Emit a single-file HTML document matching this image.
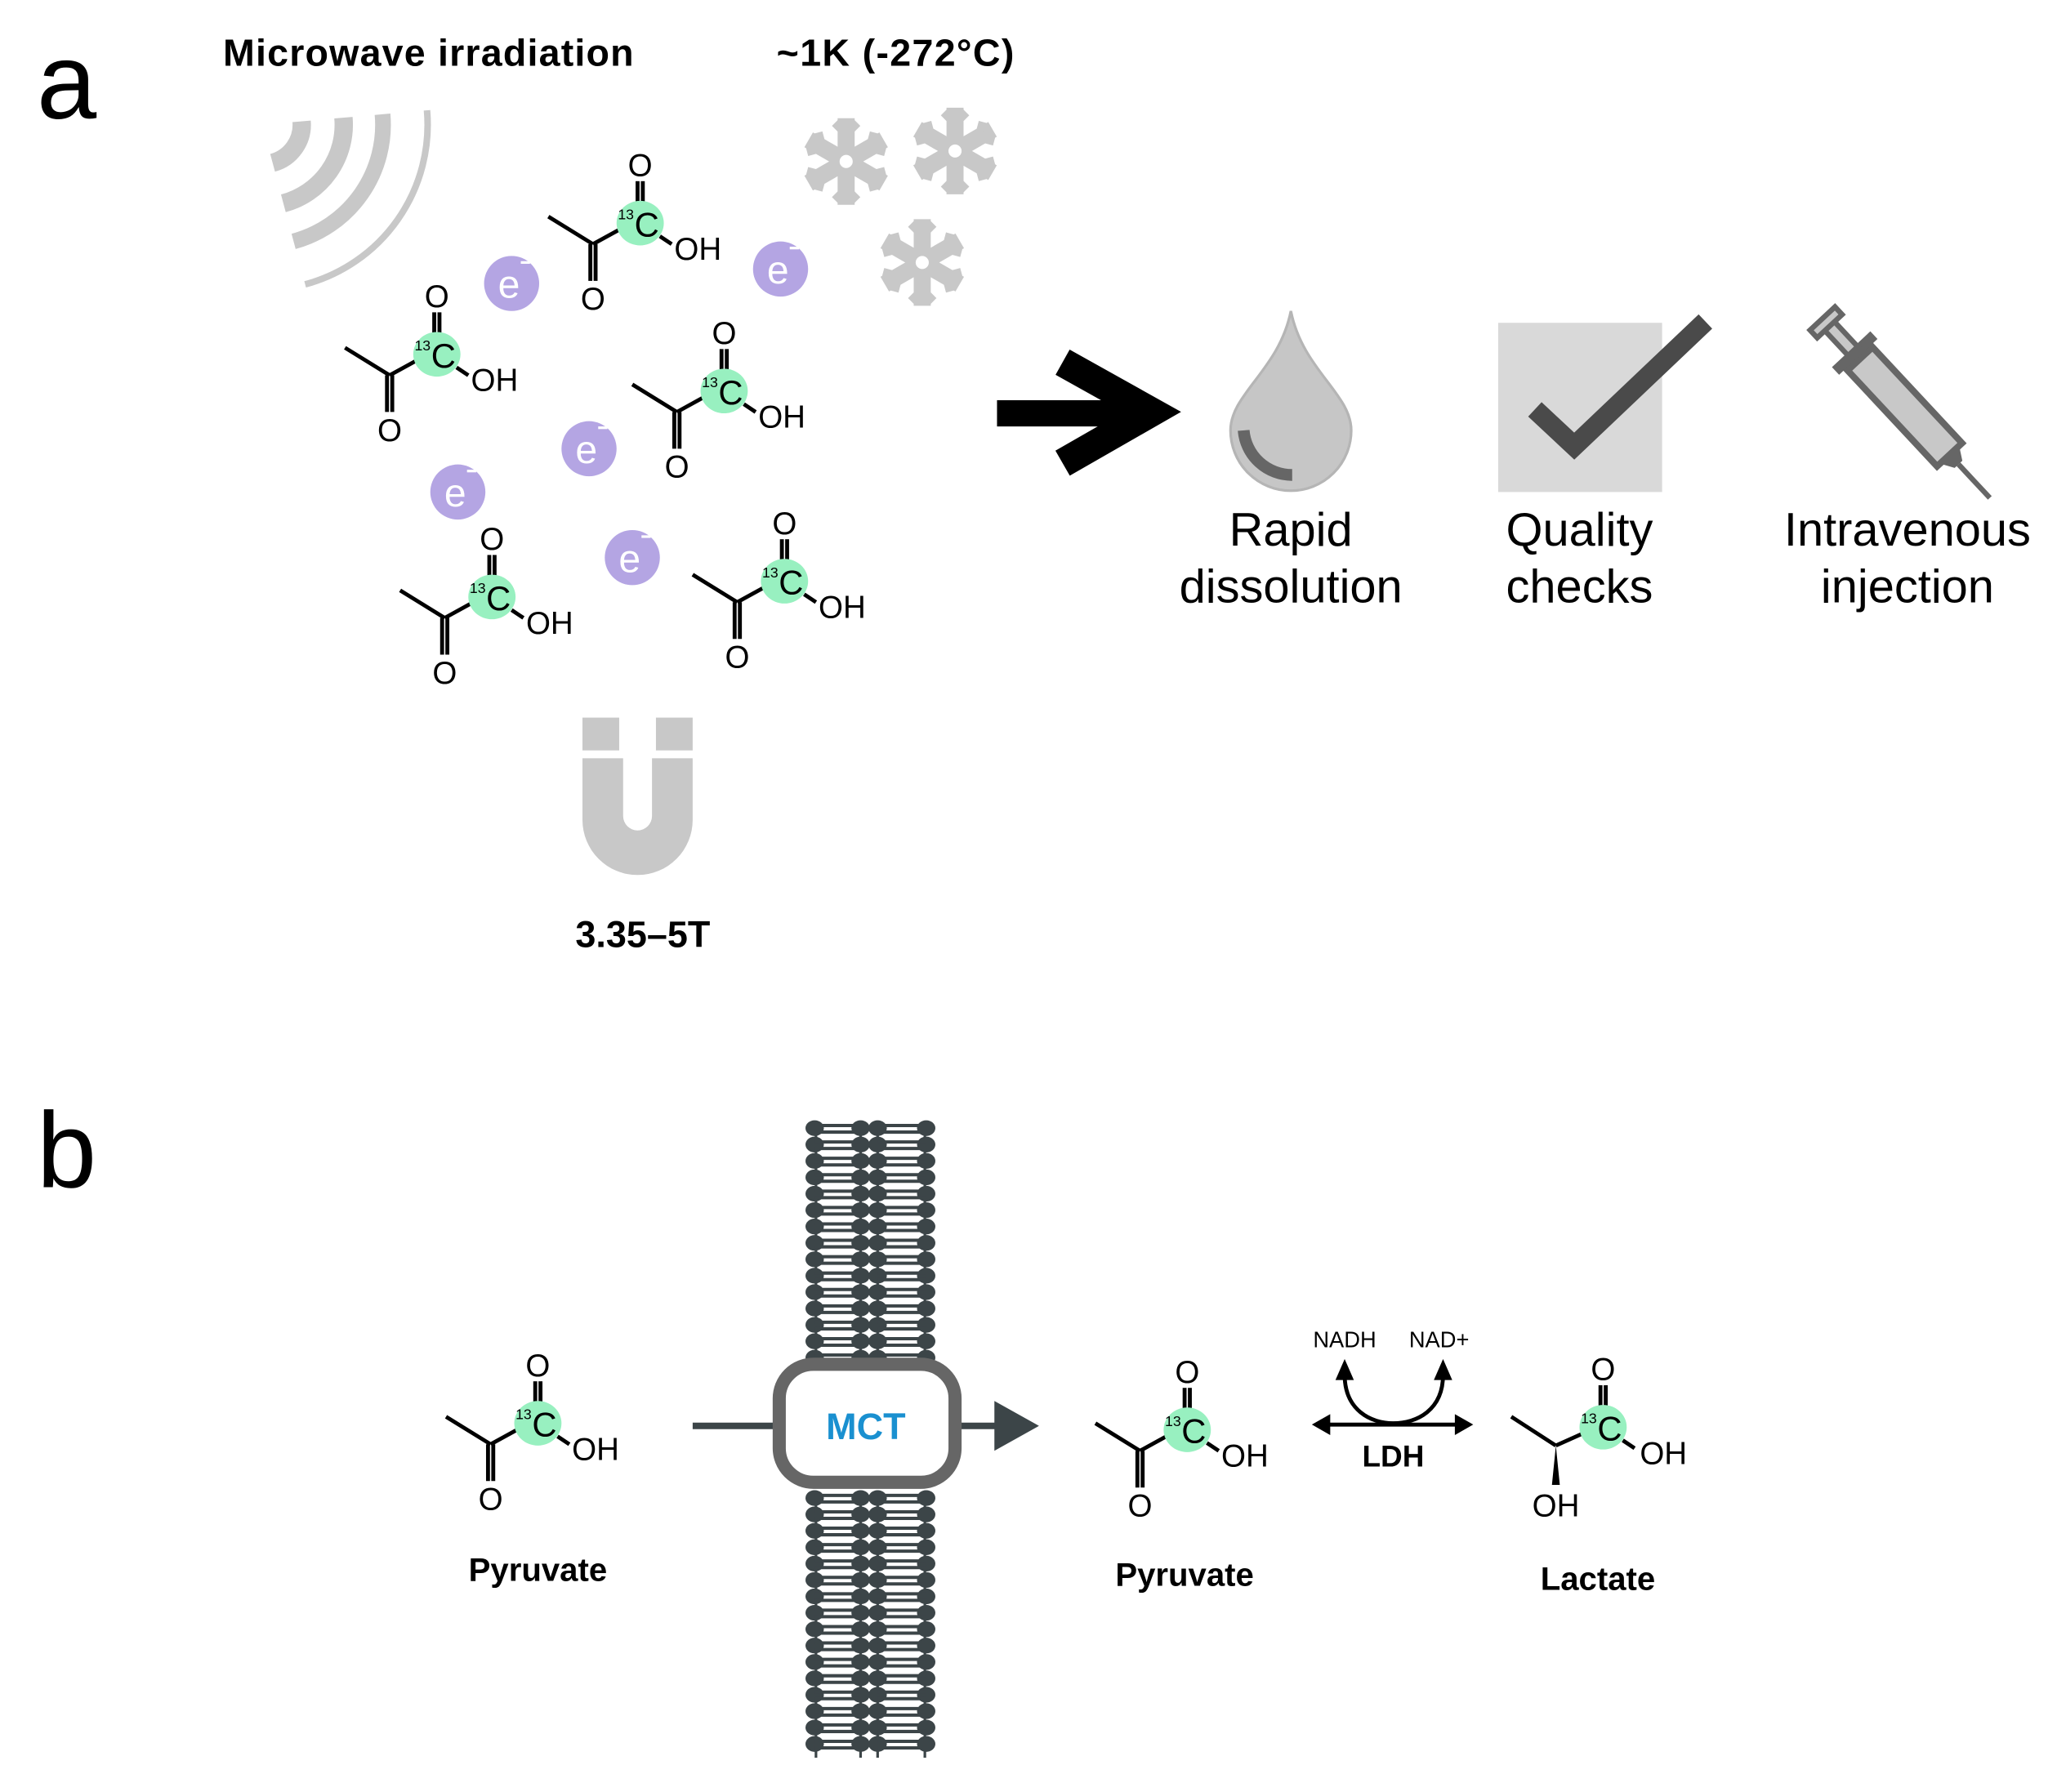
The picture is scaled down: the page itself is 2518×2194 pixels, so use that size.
<!DOCTYPE html>
<html><head><meta charset="utf-8"><style>
html,body{margin:0;padding:0;background:#fff}
svg{display:block}
text{font-family:"Liberation Sans",sans-serif}
</style></head><body>
<svg width="2518" height="2194" viewBox="0 0 1568 1366" xmlns="http://www.w3.org/2000/svg">
<rect width="1568" height="1366" fill="#fff"/>
<text x="28" y="90" font-size="82">a</text>
<text x="28" y="905" font-size="82">b</text>
<text x="170" y="50" font-size="29" font-weight="bold" textLength="313">Microwave irradiation</text>
<text x="592" y="50" font-size="29" font-weight="bold" textLength="181">~1K (-272°C)</text>
<text x="490" y="722" font-size="28" font-weight="bold" text-anchor="middle">3.35–5T</text>

<g fill="none" stroke="#c8c8c8">
<path d="M229.9 92.4 A30 30 0 0 1 207.8 124" stroke-width="14"/>
<path d="M261.8 89.6 A62 62 0 0 1 216 154.9" stroke-width="14"/>
<path d="M291.6 87 A92 92 0 0 1 223.8 183.9" stroke-width="12"/>
<path d="M325.5 84 A126 126 0 0 1 232.6 216.7" stroke-width="5"/>
</g>

<g fill="none" stroke="#c8c8c8" stroke-width="13">
<g transform="translate(645,123)"><g id="arm"><line x1="0" y1="0" x2="0" y2="-33"/><line x1="0" y1="-22" x2="-8" y2="-30" stroke-width="8"/><line x1="0" y1="-22" x2="8" y2="-30" stroke-width="8"/></g><use href="#arm" transform="rotate(60)"/><use href="#arm" transform="rotate(120)"/><use href="#arm" transform="rotate(180)"/><use href="#arm" transform="rotate(240)"/><use href="#arm" transform="rotate(300)"/><circle r="12" fill="#c8c8c8" stroke="none"/><circle r="5" fill="#fff" stroke="none"/></g>
<g transform="translate(728,115)"><use href="#arm"/><use href="#arm" transform="rotate(60)"/><use href="#arm" transform="rotate(120)"/><use href="#arm" transform="rotate(180)"/><use href="#arm" transform="rotate(240)"/><use href="#arm" transform="rotate(300)"/><circle r="12" fill="#c8c8c8" stroke="none"/><circle r="5" fill="#fff" stroke="none"/></g>
<g transform="translate(703,200)"><use href="#arm"/><use href="#arm" transform="rotate(60)"/><use href="#arm" transform="rotate(120)"/><use href="#arm" transform="rotate(180)"/><use href="#arm" transform="rotate(240)"/><use href="#arm" transform="rotate(300)"/><circle r="12" fill="#c8c8c8" stroke="none"/><circle r="5" fill="#fff" stroke="none"/></g>
</g>

<g>
<circle cx="390" cy="216" r="21" fill="#b4a5e3"/><text x="388" y="227" font-size="30" fill="#fff" text-anchor="middle">e</text><rect x="397" y="199" width="7" height="2" fill="#fff"/>
<circle cx="595" cy="205" r="21" fill="#b4a5e3"/><text x="593" y="216" font-size="30" fill="#fff" text-anchor="middle">e</text><rect x="602" y="188" width="7" height="2" fill="#fff"/>
<circle cx="449" cy="342" r="21" fill="#b4a5e3"/><text x="447" y="353" font-size="30" fill="#fff" text-anchor="middle">e</text><rect x="456" y="325" width="7" height="2" fill="#fff"/>
<circle cx="349" cy="375" r="21" fill="#b4a5e3"/><text x="347" y="386" font-size="30" fill="#fff" text-anchor="middle">e</text><rect x="356" y="358" width="7" height="2" fill="#fff"/>
<circle cx="482" cy="425" r="21" fill="#b4a5e3"/><text x="480" y="436" font-size="30" fill="#fff" text-anchor="middle">e</text><rect x="489" y="408" width="7" height="2" fill="#fff"/>
</g>

<g stroke="#000" stroke-width="3" font-size="24">
<g transform="translate(488,170)"><line x1="-70" y1="-5" x2="-36" y2="16"/><line x1="-36" y1="16" x2="-16" y2="5"/><line x1="-38" y1="16" x2="-38" y2="44"/><line x1="-34" y1="16" x2="-34" y2="44"/><line x1="-2" y1="-16" x2="-2" y2="-32"/><line x1="2" y1="-16" x2="2" y2="-32"/><line x1="15" y1="10" x2="24" y2="16"/><ellipse rx="18" ry="17" fill="#98f0c0" stroke="none"/><g stroke="none"><text x="-36" y="66" text-anchor="middle">O</text><text x="0" y="-36" text-anchor="middle">O</text><text x="-17" y="-3" font-size="11">13</text><text x="5" y="10" font-size="26" text-anchor="middle">C</text><text x="26" y="28">OH</text></g></g>
<g transform="translate(333,270)"><line x1="-70" y1="-5" x2="-36" y2="16"/><line x1="-36" y1="16" x2="-16" y2="5"/><line x1="-38" y1="16" x2="-38" y2="44"/><line x1="-34" y1="16" x2="-34" y2="44"/><line x1="-2" y1="-16" x2="-2" y2="-32"/><line x1="2" y1="-16" x2="2" y2="-32"/><line x1="15" y1="10" x2="24" y2="16"/><ellipse rx="18" ry="17" fill="#98f0c0" stroke="none"/><g stroke="none"><text x="-36" y="66" text-anchor="middle">O</text><text x="0" y="-36" text-anchor="middle">O</text><text x="-17" y="-3" font-size="11">13</text><text x="5" y="10" font-size="26" text-anchor="middle">C</text><text x="26" y="28">OH</text></g></g>
<g transform="translate(552,298)"><line x1="-70" y1="-5" x2="-36" y2="16"/><line x1="-36" y1="16" x2="-16" y2="5"/><line x1="-38" y1="16" x2="-38" y2="44"/><line x1="-34" y1="16" x2="-34" y2="44"/><line x1="-2" y1="-16" x2="-2" y2="-32"/><line x1="2" y1="-16" x2="2" y2="-32"/><line x1="15" y1="10" x2="24" y2="16"/><ellipse rx="18" ry="17" fill="#98f0c0" stroke="none"/><g stroke="none"><text x="-36" y="66" text-anchor="middle">O</text><text x="0" y="-36" text-anchor="middle">O</text><text x="-17" y="-3" font-size="11">13</text><text x="5" y="10" font-size="26" text-anchor="middle">C</text><text x="26" y="28">OH</text></g></g>
<g transform="translate(375,455)"><line x1="-70" y1="-5" x2="-36" y2="16"/><line x1="-36" y1="16" x2="-16" y2="5"/><line x1="-38" y1="16" x2="-38" y2="44"/><line x1="-34" y1="16" x2="-34" y2="44"/><line x1="-2" y1="-16" x2="-2" y2="-32"/><line x1="2" y1="-16" x2="2" y2="-32"/><line x1="15" y1="10" x2="24" y2="16"/><ellipse rx="18" ry="17" fill="#98f0c0" stroke="none"/><g stroke="none"><text x="-36" y="66" text-anchor="middle">O</text><text x="0" y="-36" text-anchor="middle">O</text><text x="-17" y="-3" font-size="11">13</text><text x="5" y="10" font-size="26" text-anchor="middle">C</text><text x="26" y="28">OH</text></g></g>
<g transform="translate(598,443)"><line x1="-70" y1="-5" x2="-36" y2="16"/><line x1="-36" y1="16" x2="-16" y2="5"/><line x1="-38" y1="16" x2="-38" y2="44"/><line x1="-34" y1="16" x2="-34" y2="44"/><line x1="-2" y1="-16" x2="-2" y2="-32"/><line x1="2" y1="-16" x2="2" y2="-32"/><line x1="15" y1="10" x2="24" y2="16"/><ellipse rx="18" ry="17" fill="#98f0c0" stroke="none"/><g stroke="none"><text x="-36" y="66" text-anchor="middle">O</text><text x="0" y="-36" text-anchor="middle">O</text><text x="-17" y="-3" font-size="11">13</text><text x="5" y="10" font-size="26" text-anchor="middle">C</text><text x="26" y="28">OH</text></g></g>
<g transform="translate(410,1085)"><line x1="-70" y1="-5" x2="-36" y2="16"/><line x1="-36" y1="16" x2="-16" y2="5"/><line x1="-38" y1="16" x2="-38" y2="44"/><line x1="-34" y1="16" x2="-34" y2="44"/><line x1="-2" y1="-16" x2="-2" y2="-32"/><line x1="2" y1="-16" x2="2" y2="-32"/><line x1="15" y1="10" x2="24" y2="16"/><ellipse rx="18" ry="17" fill="#98f0c0" stroke="none"/><g stroke="none"><text x="-36" y="66" text-anchor="middle">O</text><text x="0" y="-36" text-anchor="middle">O</text><text x="-17" y="-3" font-size="11">13</text><text x="5" y="10" font-size="26" text-anchor="middle">C</text><text x="26" y="28">OH</text></g></g>
<g transform="translate(905,1090)"><line x1="-70" y1="-5" x2="-36" y2="16"/><line x1="-36" y1="16" x2="-16" y2="5"/><line x1="-38" y1="16" x2="-38" y2="44"/><line x1="-34" y1="16" x2="-34" y2="44"/><line x1="-2" y1="-16" x2="-2" y2="-32"/><line x1="2" y1="-16" x2="2" y2="-32"/><line x1="15" y1="10" x2="24" y2="16"/><ellipse rx="18" ry="17" fill="#98f0c0" stroke="none"/><g stroke="none"><text x="-36" y="66" text-anchor="middle">O</text><text x="0" y="-36" text-anchor="middle">O</text><text x="-17" y="-3" font-size="11">13</text><text x="5" y="10" font-size="26" text-anchor="middle">C</text><text x="26" y="28">OH</text></g></g>
<g transform="translate(1222,1088)"><line x1="-70" y1="-8" x2="-36" y2="14"/><line x1="-36" y1="14" x2="-16" y2="5"/><polygon points="-36,14 -39,44 -33,44" fill="#000" stroke="none"/><line x1="-2" y1="-16" x2="-2" y2="-32"/><line x1="2" y1="-16" x2="2" y2="-32"/><line x1="15" y1="10" x2="24" y2="16"/><ellipse rx="18" ry="17" fill="#98f0c0" stroke="none"/><g stroke="none"><text x="-36" y="68" text-anchor="middle">OH</text><text x="0" y="-36" text-anchor="middle">O</text><text x="-17" y="-3" font-size="11">13</text><text x="5" y="10" font-size="26" text-anchor="middle">C</text><text x="28" y="28">OH</text></g></g>
</g>

<g fill="#c8c8c8">
<rect x="444" y="547" width="28" height="25"/><rect x="500" y="547" width="28" height="25"/>
<path d="M444 578 L444 625 A42 42 0 0 0 528 625 L528 578 L497 578 L497 622 A11 11 0 0 1 475 622 L475 578 Z"/>
</g>

<g stroke="#000" fill="none">
<line x1="760" y1="315" x2="860" y2="315" stroke-width="20"/>
<polyline points="810,276 878,314 810,353" stroke-width="22"/>
</g>

<path d="M984 237 C 975 282, 938 300, 938 328 A 46 46 0 0 0 1030 328 C 1030 300, 993 282, 984 237 Z" fill="#c6c6c6" stroke="#b5b5b5" stroke-width="2"/>
<path d="M948 328 A 37 37 0 0 0 985 362" fill="none" stroke="#666" stroke-width="9"/>
<rect x="1142" y="246" width="125" height="129" fill="#d9d9d9"/>
<polyline points="1170,312 1200,340 1300,245" fill="none" stroke="#4a4a4a" stroke-width="15"/>
<g transform="translate(1452,310) rotate(47)">
<rect x="-50" y="-13" width="100" height="26" fill="#c8c8c8" stroke="#666" stroke-width="5"/>
<rect x="-60" y="-20" width="8" height="40" fill="#666"/>
<rect x="-85" y="-5" width="27" height="10" fill="#c8c8c8" stroke="#666" stroke-width="4"/>
<rect x="-92" y="-13" width="8" height="26" fill="#c8c8c8" stroke="#666" stroke-width="4"/>
<polygon points="50,-10 60,-4 60,4 50,10" fill="#666"/>
<line x1="60" y1="0" x2="95" y2="0" stroke="#666" stroke-width="4"/>
</g>
<g font-size="36" text-anchor="middle">
<text x="984" y="416">Rapid</text><text x="984" y="459">dissolution</text>
<text x="1204" y="416">Quality</text><text x="1204" y="459">checks</text>
<text x="1454" y="416">Intravenous</text><text x="1454" y="459">injection</text>
</g>

<g stroke="#3c4548" fill="none" stroke-width="2">
<path d="M622 858 V1040 M656 858 V1040 M669 858 V1040 M705 858 V1040 M622 1140 V1340 M656 1140 V1340 M669 1140 V1340 M705 1140 V1340"/>
</g>
<g fill="#3c4548" id="rowsTop"></g>
<script>
(function(){
var ns="http://www.w3.org/2000/svg",g=document.getElementById("rowsTop");
function row(y){
 [621,656,669,706].forEach(function(x){var e=document.createElementNS(ns,"ellipse");e.setAttribute("cx",x);e.setAttribute("cy",y);e.setAttribute("rx",7);e.setAttribute("ry",6);g.appendChild(e);});
 [[621,656],[669,706]].forEach(function(p){var l=document.createElementNS(ns,"path");l.setAttribute("d","M"+p[0]+" "+(y-2)+" H"+p[1]+" M"+p[0]+" "+(y+3)+" H"+p[1]);l.setAttribute("stroke","#3c4548");l.setAttribute("stroke-width","2.5");l.setAttribute("fill","none");g.appendChild(l);});
}
for(var y=860;y<=1035;y+=12.5)row(y);
for(var y=1142;y<=1338;y+=12.5)row(y);
})();
</script>

<line x1="528" y1="1087" x2="592" y2="1087" stroke="#3c4548" stroke-width="5"/>
<line x1="730" y1="1087" x2="762" y2="1087" stroke="#3c4548" stroke-width="5"/>
<polygon points="758,1068 792,1087 758,1106" fill="#3c4548"/>
<rect x="594" y="1040" width="134" height="90" rx="26" fill="#fff" stroke="#666" stroke-width="10"/>
<text x="660" y="1097" font-size="28" font-weight="bold" fill="#1a90d0" text-anchor="middle">MCT</text>

<g stroke="#000" stroke-width="3" fill="none">
<line x1="1010" y1="1086" x2="1113" y2="1086"/>
<path d="M1025 1048 C 1025 1075, 1045 1085, 1062 1085 C 1080 1085, 1100 1075, 1100 1048"/>
</g>
<polygon points="1000,1086 1014,1078 1014,1094" fill="#000"/>
<polygon points="1123,1086 1109,1078 1109,1094" fill="#000"/>
<polygon points="1025,1036 1018,1052 1032,1052" fill="#000"/>
<polygon points="1100,1036 1093,1052 1107,1052" fill="#000"/>
<text x="1025" y="1027" font-size="17" text-anchor="middle">NADH</text>
<text x="1097" y="1027" font-size="17" text-anchor="middle">NAD+</text>
<text x="1062" y="1118" font-size="23" font-weight="bold" text-anchor="middle">LDH</text>

<g font-size="25" font-weight="bold" text-anchor="middle">
<text x="410" y="1205">Pyruvate</text>
<text x="903" y="1209">Pyruvate</text>
<text x="1218" y="1212">Lactate</text>
</g>
</svg>
</body></html>
